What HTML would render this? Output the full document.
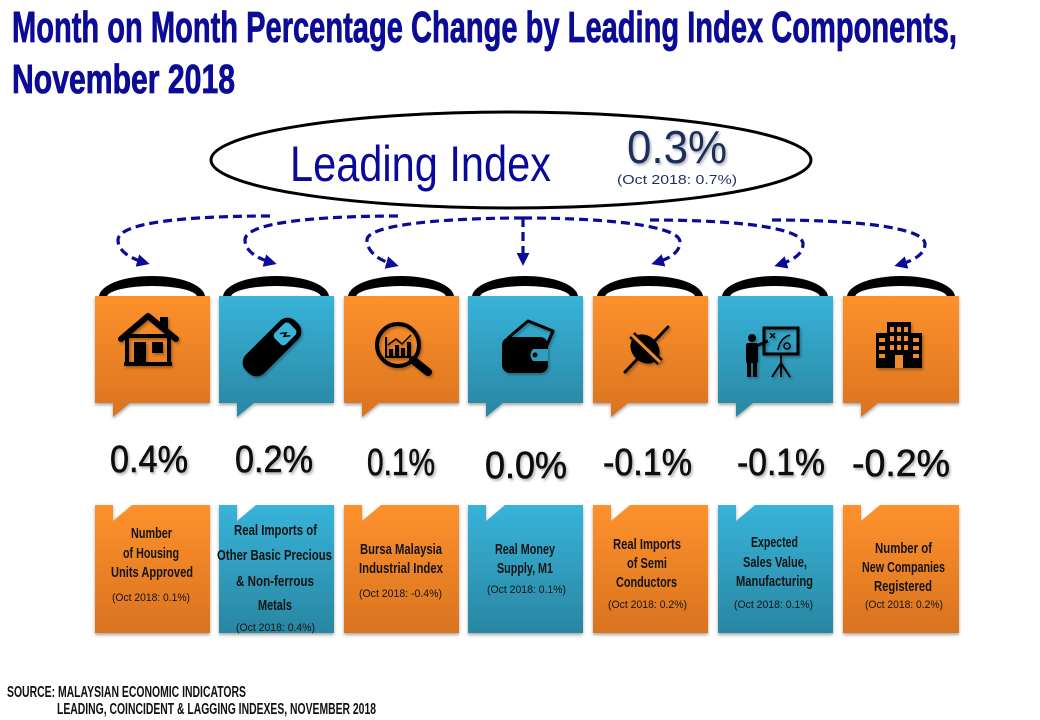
<!DOCTYPE html>
<html><head><meta charset="utf-8"><style>
html,body{margin:0;padding:0;background:#fff;}
svg{display:block;}
.t{font-family:"Liberation Sans Narrow","Liberation Sans",sans-serif;font-weight:bold;}
.s{font-family:"Liberation Sans",sans-serif;}
</style></head><body>
<svg width="1040" height="720" viewBox="0 0 1040 720" xmlns="http://www.w3.org/2000/svg">
<defs>
<linearGradient id="ou" gradientUnits="userSpaceOnUse" x1="0" y1="296" x2="0" y2="417"><stop offset="0" stop-color="#fd912d"/><stop offset="1" stop-color="#d9731f"/></linearGradient>
<linearGradient id="tu" gradientUnits="userSpaceOnUse" x1="0" y1="296" x2="0" y2="417"><stop offset="0" stop-color="#38b3d9"/><stop offset="1" stop-color="#2986a1"/></linearGradient>
<linearGradient id="ol" gradientUnits="userSpaceOnUse" x1="0" y1="505" x2="0" y2="633"><stop offset="0" stop-color="#fd912d"/><stop offset="1" stop-color="#d9731f"/></linearGradient>
<linearGradient id="tl" gradientUnits="userSpaceOnUse" x1="0" y1="505" x2="0" y2="633"><stop offset="0" stop-color="#38b3d9"/><stop offset="1" stop-color="#2986a1"/></linearGradient>
<filter id="sh" x="-10%" y="-10%" width="120%" height="130%"><feDropShadow dx="0" dy="2" stdDeviation="1.5" flood-opacity="0.35"/></filter>
<filter id="ts" x="-10%" y="-10%" width="130%" height="140%"><feDropShadow dx="1.5" dy="2" stdDeviation="1.2" flood-opacity="0.3"/></filter>
<marker id="ah" viewBox="0 0 10 10" refX="7" refY="5" markerWidth="4" markerHeight="4" orient="auto"><path d="M0,0 L10,5 L0,10 z" fill="#0a0a9b"/></marker>
</defs>

<!-- Title -->
<text class="t" x="12" y="42" font-size="44" fill="#0b0b96" stroke="#0b0b96" stroke-width="0.8" textLength="945" lengthAdjust="spacingAndGlyphs">Month on Month Percentage Change by Leading Index Components,</text>
<text class="t" x="12" y="93" font-size="41" fill="#0b0b96" stroke="#0b0b96" stroke-width="0.8" textLength="223" lengthAdjust="spacingAndGlyphs">November 2018</text>

<!-- Oval -->
<ellipse cx="511" cy="160" rx="300" ry="48" fill="#fff" stroke="#000" stroke-width="3"/>
<text font-family="Liberation Sans, sans-serif" x="290" y="181" font-size="50" fill="#0a0a9a" textLength="261" lengthAdjust="spacingAndGlyphs">Leading Index</text>
<text font-family="Liberation Sans, sans-serif" x="627" y="163" font-size="46" fill="#1b2f5f" textLength="100" lengthAdjust="spacingAndGlyphs" filter="url(#ts)">0.3%</text>
<text font-family="Liberation Sans, sans-serif" x="617" y="184" font-size="13" fill="#1b2f5f" textLength="120" lengthAdjust="spacingAndGlyphs">(Oct 2018: 0.7%)</text>

<!-- Arrows -->
<g fill="none" stroke="#0a0a9b" stroke-width="3.2" stroke-dasharray="9 5" marker-end="url(#ah)">
<path d="M270,216 C190,216 118,222 118,240 C118,252 132,259 146,263"/>
<path d="M398,216 C320,216 245,222 245,240 C245,252 259,259 273,263"/>
<path d="M523,218 C450,218 367,224 367,240 C367,253 381,261 395,265"/>
<path d="M523,218 L523,262"/>
<path d="M523,218 C610,218 680,226 680,242 C680,253 668,259 655,263"/>
<path d="M650,220 C740,220 803,228 803,244 C803,255 791,261 778,265"/>
<path d="M772,220 C860,220 925,228 925,244 C925,255 912,261 898,265"/>
</g>

<!-- Rings -->
<g fill="#000">
<path d="M99,297 A53,21 0 0 1 205,297 L197,297 A45,11 0 0 0 107,297 Z"/>
<path d="M223,297 A53,21 0 0 1 329,297 L321,297 A45,11 0 0 0 231,297 Z"/>
<path d="M348,297 A53,21 0 0 1 454,297 L446,297 A45,11 0 0 0 356,297 Z"/>
<path d="M472,297 A53,21 0 0 1 578,297 L570,297 A45,11 0 0 0 480,297 Z"/>
<path d="M597,297 A53,21 0 0 1 703,297 L695,297 A45,11 0 0 0 605,297 Z"/>
<path d="M722,297 A53,21 0 0 1 828,297 L820,297 A45,11 0 0 0 730,297 Z"/>
<path d="M847,297 A54,21 0 0 1 955,297 L947,297 A46,11 0 0 0 855,297 Z"/>
</g>

<!-- Upper boxes -->
<g filter="url(#sh)">
<path d="M95,296 H210 V403 H130 L113,417 V403 H95 Z" fill="url(#ou)"/>
<path d="M219,296 H334 V403 H254 L237,417 V403 H219 Z" fill="url(#tu)"/>
<path d="M344,296 H459 V403 H379 L362,417 V403 H344 Z" fill="url(#ou)"/>
<path d="M468,296 H583 V403 H503 L486,417 V403 H468 Z" fill="url(#tu)"/>
<path d="M593,296 H708 V403 H628 L611,417 V403 H593 Z" fill="url(#ou)"/>
<path d="M718,296 H833 V403 H753 L736,417 V403 H718 Z" fill="url(#tu)"/>
<path d="M843,296 H959 V403 H878 L861,417 V403 H843 Z" fill="url(#ou)"/>
</g>

<!-- Icons -->
<g filter="url(#ts)">
<!-- house -->
<path d="M121,339 L148,316 L176,339" fill="none" stroke="#000" stroke-width="6" stroke-linejoin="round" stroke-linecap="round"/>
<rect x="160" y="317" width="8" height="13" fill="#000"/>
<rect x="127" y="336" width="42" height="28" fill="none" stroke="#000" stroke-width="4"/>
<rect x="134" y="342" width="12" height="22" fill="#000"/>
<rect x="152" y="342" width="11" height="11" fill="#000"/>
<rect x="124" y="362" width="48" height="4" fill="#000"/>
<!-- battery -->
<g transform="translate(272,347) rotate(-45)">
<rect x="-35" y="-13" width="70" height="26" rx="11" fill="#000"/>
<rect x="8" y="-8" width="21" height="16" rx="4" fill="#3ab4da"/>
<path d="M15,-4 L20,0 L16,1 L21,5" fill="none" stroke="#000" stroke-width="1.5"/>
</g>
<!-- magnifier -->
<circle cx="398" cy="345" r="21" fill="none" stroke="#000" stroke-width="4"/>
<line x1="413" y1="360" x2="428" y2="372" stroke="#000" stroke-width="8" stroke-linecap="round"/>
<path d="M386,337 V357 H411" fill="none" stroke="#000" stroke-width="2"/>
<rect x="389" y="349" width="4" height="8" fill="#000"/>
<rect x="395" y="345" width="4" height="12" fill="#000"/>
<rect x="401" y="348" width="4" height="9" fill="#000"/>
<rect x="407" y="342" width="4" height="15" fill="#000"/>
<path d="M388,345 L396,339 L402,344 L411,335" fill="none" stroke="#000" stroke-width="1.5"/>
<!-- wallet -->
<path d="M508,338 L528,321 L553,331 L547,345" fill="none" stroke="#000" stroke-width="3" stroke-linejoin="round"/>
<rect x="502" y="337" width="46" height="36" rx="8" fill="#000"/>
<path d="M548,349 H533 Q528,355 533,361 H548 Z" fill="#2f9ec0"/>
<circle cx="535" cy="355" r="2.5" fill="#000"/>
<!-- plug -->
<line x1="625" y1="372" x2="668" y2="327" stroke="#000" stroke-width="3" stroke-linecap="round"/>
<ellipse cx="645" cy="349" rx="13" ry="16" transform="rotate(-45 645 349)" fill="#000"/>
<line x1="632" y1="335" x2="660" y2="362" stroke="#000" stroke-width="8"/>
<line x1="632" y1="335" x2="660" y2="362" stroke="#f08a2a" stroke-width="3"/>
<!-- presenter -->
<circle cx="752" cy="338" r="4" fill="#000"/>
<rect x="746" y="343" width="12" height="20" rx="2" fill="#000"/>
<rect x="747" y="362" width="4" height="15" fill="#000"/>
<rect x="753" y="362" width="4" height="15" fill="#000"/>
<line x1="756" y1="346" x2="768" y2="341" stroke="#000" stroke-width="3"/>
<rect x="764" y="328" width="34" height="26" fill="none" stroke="#000" stroke-width="3"/>
<path d="M770,333 L775,338 M775,333 L770,338" stroke="#000" stroke-width="1.5"/>
<path d="M778,350 Q780,338 790,335" fill="none" stroke="#000" stroke-width="1.5"/>
<circle cx="787" cy="346" r="3" fill="none" stroke="#000" stroke-width="1.5"/>
<path d="M781,354 V377 M781,363 L772,377 M781,363 L790,377" stroke="#000" stroke-width="2"/>
<!-- buildings -->
<rect x="876" y="333" width="12" height="35" fill="#000"/>
<rect x="910" y="333" width="12" height="35" fill="#000"/>
<rect x="887" y="322" width="24" height="46" fill="#000"/>
<g fill="#f08a2a">
<rect x="890" y="327" width="4" height="5"/><rect x="897" y="327" width="4" height="5"/><rect x="904" y="327" width="4" height="5"/>
<rect x="890" y="336" width="4" height="5"/><rect x="897" y="336" width="4" height="5"/><rect x="904" y="336" width="4" height="5"/>
<rect x="890" y="345" width="4" height="5"/><rect x="897" y="345" width="4" height="5"/><rect x="904" y="345" width="4" height="5"/>
<rect x="895" y="355" width="8" height="13"/>
<rect x="879" y="338" width="6" height="4"/><rect x="879" y="346" width="6" height="4"/><rect x="879" y="354" width="6" height="4"/>
<rect x="913" y="338" width="6" height="4"/><rect x="913" y="346" width="6" height="4"/><rect x="913" y="354" width="6" height="4"/>
</g>
</g>

<!-- Percentages -->
<g font-family="Liberation Sans, sans-serif" font-size="38" fill="#111" stroke="#111" stroke-width="0.6" filter="url(#ts)">
<text x="110" y="472" textLength="78" lengthAdjust="spacingAndGlyphs">0.4%</text>
<text x="235" y="472" textLength="78" lengthAdjust="spacingAndGlyphs">0.2%</text>
<text x="367" y="475" textLength="68" lengthAdjust="spacingAndGlyphs">0.1%</text>
<text x="485" y="478" textLength="82" lengthAdjust="spacingAndGlyphs">0.0%</text>
<text x="603" y="475" textLength="89" lengthAdjust="spacingAndGlyphs">-0.1%</text>
<text x="737" y="475" textLength="88" lengthAdjust="spacingAndGlyphs">-0.1%</text>
<text x="852" y="476" textLength="98" lengthAdjust="spacingAndGlyphs">-0.2%</text>
</g>

<!-- Lower boxes -->
<g filter="url(#sh)">
<path d="M95,505 H113 V521 L132,505 H210 V633 H95 Z" fill="url(#ol)"/>
<path d="M219,505 H237 V521 L256,505 H334 V633 H219 Z" fill="url(#tl)"/>
<path d="M344,505 H362 V521 L381,505 H459 V633 H344 Z" fill="url(#ol)"/>
<path d="M468,505 H486 V521 L505,505 H583 V633 H468 Z" fill="url(#tl)"/>
<path d="M593,505 H611 V521 L630,505 H708 V633 H593 Z" fill="url(#ol)"/>
<path d="M718,505 H736 V521 L755,505 H833 V633 H718 Z" fill="url(#tl)"/>
<path d="M843,505 H861 V521 L880,505 H959 V633 H843 Z" fill="url(#ol)"/>
</g>

<g class="t" font-size="15" fill="#141414">
<text x="131" y="538" textLength="41" lengthAdjust="spacingAndGlyphs">Number</text>
<text x="123" y="558" textLength="56" lengthAdjust="spacingAndGlyphs">of Housing</text>
<text x="111" y="577" textLength="82" lengthAdjust="spacingAndGlyphs">Units Approved</text>

<text x="234" y="535" textLength="83" lengthAdjust="spacingAndGlyphs">Real Imports of</text>
<text x="217" y="560" textLength="115" lengthAdjust="spacingAndGlyphs">Other Basic Precious</text>
<text x="236" y="586" textLength="78" lengthAdjust="spacingAndGlyphs">&amp; Non-ferrous</text>
<text x="258" y="610" textLength="34" lengthAdjust="spacingAndGlyphs">Metals</text>

<text x="360" y="554" textLength="82" lengthAdjust="spacingAndGlyphs">Bursa Malaysia</text>
<text x="359" y="573" textLength="84" lengthAdjust="spacingAndGlyphs">Industrial Index</text>

<text x="495" y="554" textLength="60" lengthAdjust="spacingAndGlyphs">Real Money</text>
<text x="497" y="573" textLength="56" lengthAdjust="spacingAndGlyphs">Supply, M1</text>

<text x="613" y="549" textLength="68" lengthAdjust="spacingAndGlyphs">Real Imports</text>
<text x="627" y="568" textLength="40" lengthAdjust="spacingAndGlyphs">of Semi</text>
<text x="616" y="587" textLength="61" lengthAdjust="spacingAndGlyphs">Conductors</text>

<text x="751" y="547" textLength="47" lengthAdjust="spacingAndGlyphs">Expected</text>
<text x="743" y="567" textLength="64" lengthAdjust="spacingAndGlyphs">Sales Value,</text>
<text x="736" y="586" textLength="77" lengthAdjust="spacingAndGlyphs">Manufacturing</text>

<text x="875" y="553" textLength="57" lengthAdjust="spacingAndGlyphs">Number of</text>
<text x="862" y="572" textLength="83" lengthAdjust="spacingAndGlyphs">New Companies</text>
<text x="874" y="591" textLength="58" lengthAdjust="spacingAndGlyphs">Registered</text>
</g>

<g font-family="Liberation Sans, sans-serif" font-size="11" fill="#141414">
<text x="112" y="601" textLength="78" lengthAdjust="spacingAndGlyphs">(Oct 2018: 0.1%)</text>
<text x="236" y="631" textLength="79" lengthAdjust="spacingAndGlyphs">(Oct 2018: 0.4%)</text>
<text x="359" y="597" textLength="83" lengthAdjust="spacingAndGlyphs">(Oct 2018: -0.4%)</text>
<text x="487" y="593" textLength="79" lengthAdjust="spacingAndGlyphs">(Oct 2018: 0.1%)</text>
<text x="608" y="608" textLength="79" lengthAdjust="spacingAndGlyphs">(Oct 2018: 0.2%)</text>
<text x="734" y="608" textLength="79" lengthAdjust="spacingAndGlyphs">(Oct 2018: 0.1%)</text>
<text x="865" y="608" textLength="78" lengthAdjust="spacingAndGlyphs">(Oct 2018: 0.2%)</text>
</g>

<!-- Source -->
<g class="t" font-size="16" fill="#111">
<text x="7" y="697" textLength="239" lengthAdjust="spacingAndGlyphs">SOURCE: MALAYSIAN ECONOMIC INDICATORS</text>
<text x="57" y="714" textLength="319" lengthAdjust="spacingAndGlyphs">LEADING, COINCIDENT &amp; LAGGING INDEXES, NOVEMBER 2018</text>
</g>
</svg>
</body></html>
